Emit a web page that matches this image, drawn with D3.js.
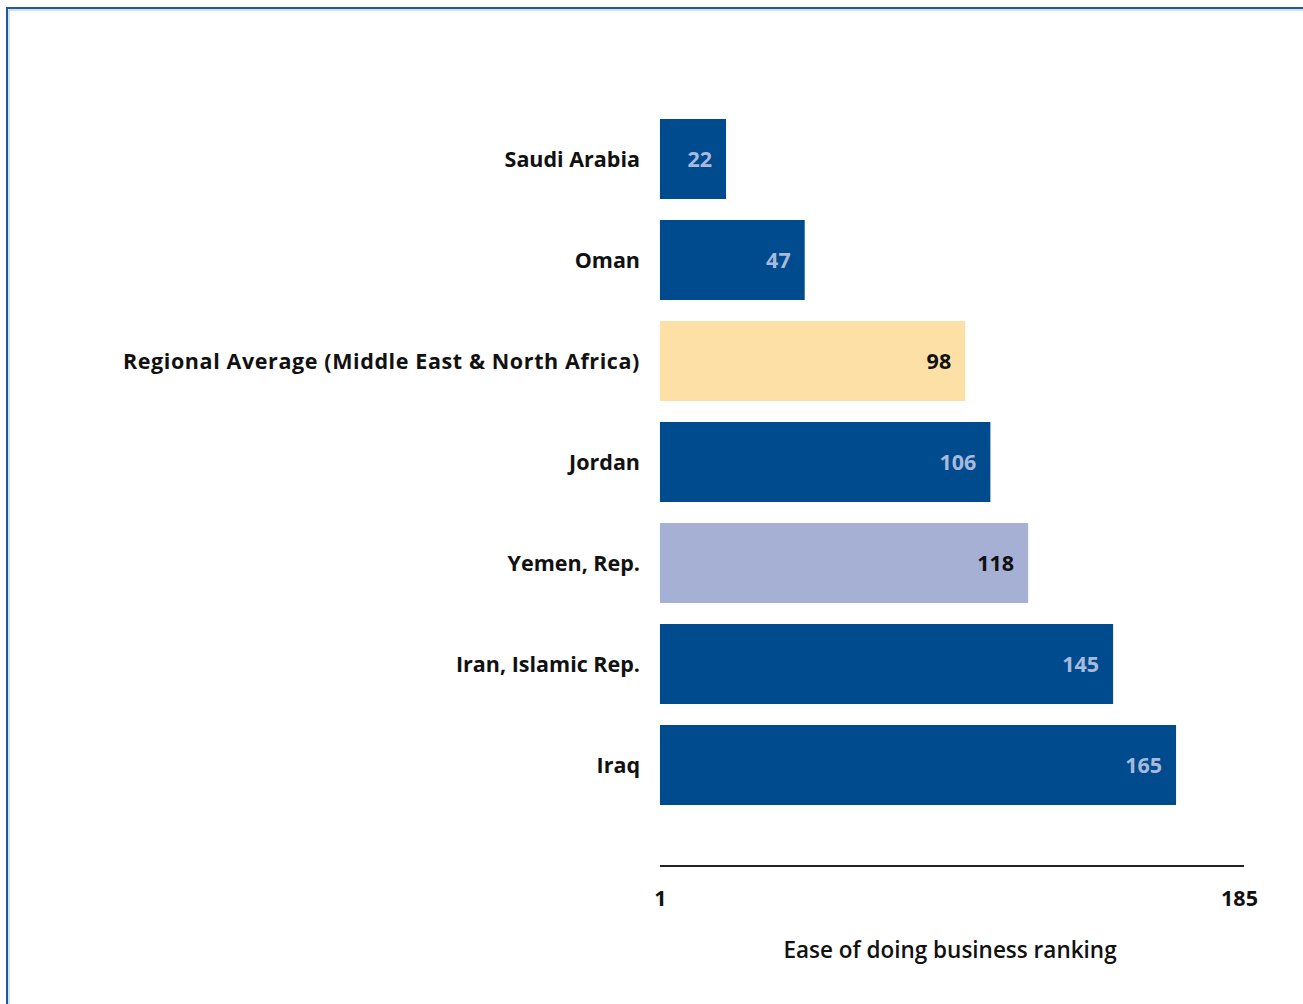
<!DOCTYPE html>
<html><head><meta charset="utf-8">
<script src="https://cdn.jsdelivr.net/npm/d3@7"></script>
<style>
html,body{margin:0;padding:0;background:#fff;}
svg{display:block;}
text{font-family:"Open Sans",sans-serif;}
</style></head>
<body>
<script>
const categories = ["Saudi Arabia","Oman","Regional Average (Middle East & North Africa)","Jordan","Yemen, Rep.","Iran, Islamic Rep.","Iraq"];
const values = [22,47,98,106,118,145,165];
const barKinds = ["country","country","regional","country","focus","country","country"];
const tickValues = [1,185];
const axisTitle = "Ease of doing business ranking";

const W = 1303, H = 1004;
const fillFor = {country:"#004b8e", regional:"#fde0a6", focus:"#a5b0d4"};
const labelFor = {country:"#a9b9dc", regional:"#111", focus:"#111"};
const FS = 21.5;

const svg = d3.select("body").append("svg").attr("width",W).attr("height",H);

// frame
svg.append("path").attr("d",`M7,${H} V8 H${W}`).attr("fill","none").attr("stroke","#1b5c9c").attr("stroke-width",2);
svg.append("path").attr("d",`M9,${H} V10 H${W}`).attr("fill","none").attr("stroke","#a8c4e0").attr("stroke-width",1);

const x = d3.scaleLinear().domain([0,185]).range([656.8,1239]);
const y = d3.scaleBand().domain(categories).range([108.5,815.5]).paddingInner(0.208).paddingOuter(0.104);

const rows = categories.map((c,i)=>({c, v:values[i], k:barKinds[i]}));

svg.selectAll("rect.bar").data(rows).join("rect").attr("class","bar")
  .attr("x",x(1)).attr("y",d=>y(d.c)).attr("width",d=>x(d.v)-x(1)).attr("height",y.bandwidth())
  .attr("fill",d=>fillFor[d.k]);

svg.selectAll("text.val").data(rows).join("text").attr("class","val")
  .attr("x",d=>x(d.v)-14).attr("y",d=>y(d.c)+y.bandwidth()/2).attr("dy","0.35em")
  .attr("text-anchor","end").attr("font-size",FS).attr("font-weight","bold")
  .attr("fill",d=>labelFor[d.k]).text(d=>d.v);

svg.selectAll("text.cat").data(rows).join("text").attr("class","cat")
  .attr("x",640).attr("y",d=>y(d.c)+y.bandwidth()/2).attr("dy","0.35em")
  .attr("text-anchor","end").attr("font-size",FS).attr("font-weight","bold")
  .attr("fill","#111").text(d=>d.c)
  .each(function(d){ if(d.k==="regional") d3.select(this).attr("letter-spacing",0.6); });

// axis
const axisY = 866;
const ax = svg.append("g").attr("transform",`translate(0,${axisY})`)
  .call(d3.axisBottom(x).tickValues(tickValues).tickSize(0).tickPadding(25));
ax.select(".domain").attr("d",`M${x(1)},0H${x(185)+5}`).attr("stroke","#222").attr("stroke-width",2);
ax.selectAll(".tick text").attr("font-size",FS).attr("font-weight","bold").attr("fill","#111")
  .attr("font-family","'Open Sans', sans-serif");

svg.append("text").attr("x",950).attr("y",950).attr("dy","0.35em")
  .attr("text-anchor","middle").attr("font-size",22.5).attr("font-weight","600").attr("fill","#111")
  .text(axisTitle);
</script>
</body></html>
